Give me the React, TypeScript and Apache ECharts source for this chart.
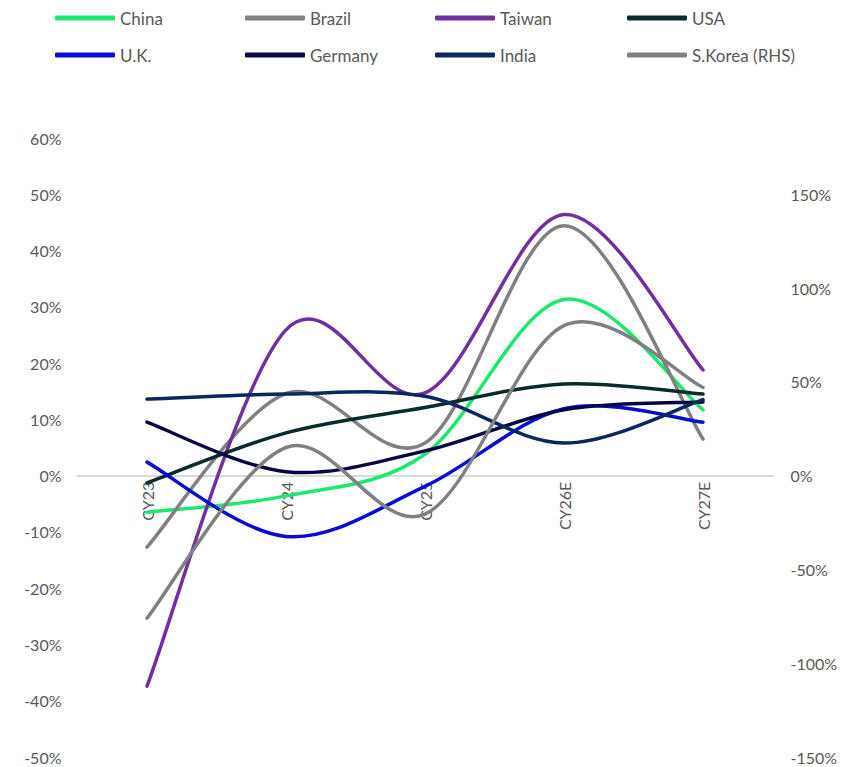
import React, { useEffect, useRef } from "react";
import * as echarts from "echarts";

const categories = ["CY23", "CY24", "CY25", "CY26E", "CY27E"];

const china = [-6.5, -3.6, 3.8, 31.3, 11.7];
const brazil = [-12.7, 14.6, 5.8, 44.4, 6.5];
const taiwan = [-37.4, 25.9, 14.7, 46.4, 18.8];
const usa = [-1.3, 7.6, 12.1, 16.3, 14.5];
const uk = [2.4, -10.8, -1.9, 11.9, 9.5];
const germany = [9.5, 0.7, 4.4, 11.7, 13.1];
const india = [13.6, 14.5, 14.1, 5.8, 13.5];
const sKoreaRHS = [-76, 15, -20.5, 80, 47];

const leftTicks = { min: -50, max: 60, interval: 10 };
const rightTicks = { min: -150, max: 180, interval: 50, lastLabel: 150 };

const seriesDefs = [
  { name: "China", data: china, color: "#1DE86E", axis: 0 },
  { name: "Brazil", data: brazil, color: "#808080", axis: 0 },
  { name: "Taiwan", data: taiwan, color: "#7030A0", axis: 0 },
  { name: "USA", data: usa, color: "#0B2A2A", axis: 0 },
  { name: "U.K.", data: uk, color: "#0A0AD2", axis: 0 },
  { name: "Germany", data: germany, color: "#070747", axis: 0 },
  { name: "India", data: india, color: "#0C2660", axis: 0 },
  { name: "S.Korea (RHS)", data: sKoreaRHS, color: "#808080", axis: 1 },
];

const legendColumns = [
  ["China", "U.K."],
  ["Brazil", "Germany"],
  ["Taiwan", "India"],
  ["USA", "S.Korea (RHS)"],
];
const legendLefts = [55, 245, 435, 627];

const FONT = "Lato, 'Noto Sans', sans-serif";
const TEXT = "#595959";

const GRID = { left: 77.5, right: 71.5, top: 138, bottom: 10 };
const CHART_H = 767;

function smoothPath(pts: number[][]): string {
  if (!pts.length) return "";
  let d = `M${pts[0][0]},${pts[0][1]}`;
  const n = pts.length;
  for (let i = 0; i < n - 1; i++) {
    const p0 = pts[Math.max(i - 1, 0)];
    const p1 = pts[i];
    const p2 = pts[i + 1];
    const p3 = pts[Math.min(i + 2, n - 1)];
    const c1x = p1[0] + (p2[0] - p0[0]) / 6;
    const c1y = p1[1] + (p2[1] - p0[1]) / 6;
    const c2x = p2[0] - (p3[0] - p1[0]) / 6;
    const c2y = p2[1] - (p3[1] - p1[1]) / 6;
    d += ` C${c1x},${c1y} ${c2x},${c2y} ${p2[0]},${p2[1]}`;
  }
  return d;
}

export default function App() {
  const ref = useRef<HTMLDivElement>(null);
  useEffect(() => {
    document.body.style.margin = "0";
    if (!ref.current) return;
    const chart = echarts.init(ref.current, null, { renderer: "svg" });
    const gridH = CHART_H - GRID.top - GRID.bottom;
    const zeroFromBottom = (gridH * (0 - leftTicks.min)) / (leftTicks.max - leftTicks.min);
    chart.setOption({
      animation: false,
      textStyle: { fontFamily: FONT },
      legend: legendColumns.map((col, i) => ({
        data: col,
        orient: "vertical",
        left: legendLefts[i],
        top: 9,
        padding: 0,
        itemGap: 19,
        itemWidth: 60,
        itemHeight: 5,
        icon: "roundRect",
        itemStyle: { borderWidth: 0 },
        textStyle: { color: TEXT, fontSize: 17, lineHeight: 18, fontFamily: FONT },
        selectedMode: false,
      })),
      grid: { ...GRID, containLabel: false, outerBoundsMode: "none" },
      xAxis: {
        type: "category",
        data: categories,
        boundaryGap: true,
        position: "bottom",
        offset: -zeroFromBottom,
        axisLine: { show: true, onZero: false, lineStyle: { color: "#D9D9D9", width: 2 } },
        axisTick: { show: false },
        axisLabel: { rotate: 90, color: TEXT, fontSize: 16, margin: 6, fontFamily: FONT },
        splitLine: { show: false },
      },
      yAxis: [
        {
          type: "value",
          min: leftTicks.min,
          max: leftTicks.max,
          interval: leftTicks.interval,
          axisLine: { show: false },
          axisTick: { show: false },
          splitLine: { show: false },
          axisLabel: { color: TEXT, fontSize: 16, margin: 16, fontFamily: FONT, formatter: (v: number) => `${v}%` },
        },
        {
          type: "value",
          min: rightTicks.min,
          max: rightTicks.max,
          interval: rightTicks.interval,
          axisLine: { show: false },
          axisTick: { show: false },
          splitLine: { show: false },
          axisLabel: {
            color: TEXT,
            fontSize: 16,
            margin: 18,
            fontFamily: FONT,
            formatter: (v: number) => (v > rightTicks.lastLabel ? "" : `${v}%`),
          },
        },
      ],
      series: seriesDefs.map((s) => ({
        name: s.name,
        type: "custom",
        coordinateSystem: "cartesian2d",
        yAxisIndex: s.axis,
        data: s.data.map((v, i) => [i, v]),
        encode: { x: 0, y: 1 },
        itemStyle: { color: s.color },
        renderItem: (params: any, api: any) => {
          if (params.dataIndex !== 0) return null;
          const pts = s.data.map((v, i) => api.coord([i, v]));
          return {
            type: "path",
            shape: { pathData: smoothPath(pts) },
            style: { fill: "none", stroke: s.color, lineWidth: 3.5, lineCap: "round", lineJoin: "round" },
          };
        },
      })),
    });
    return () => chart.dispose();
  }, []);
  return <div ref={ref} style={{ width: 844, height: 767 }} />;
}
